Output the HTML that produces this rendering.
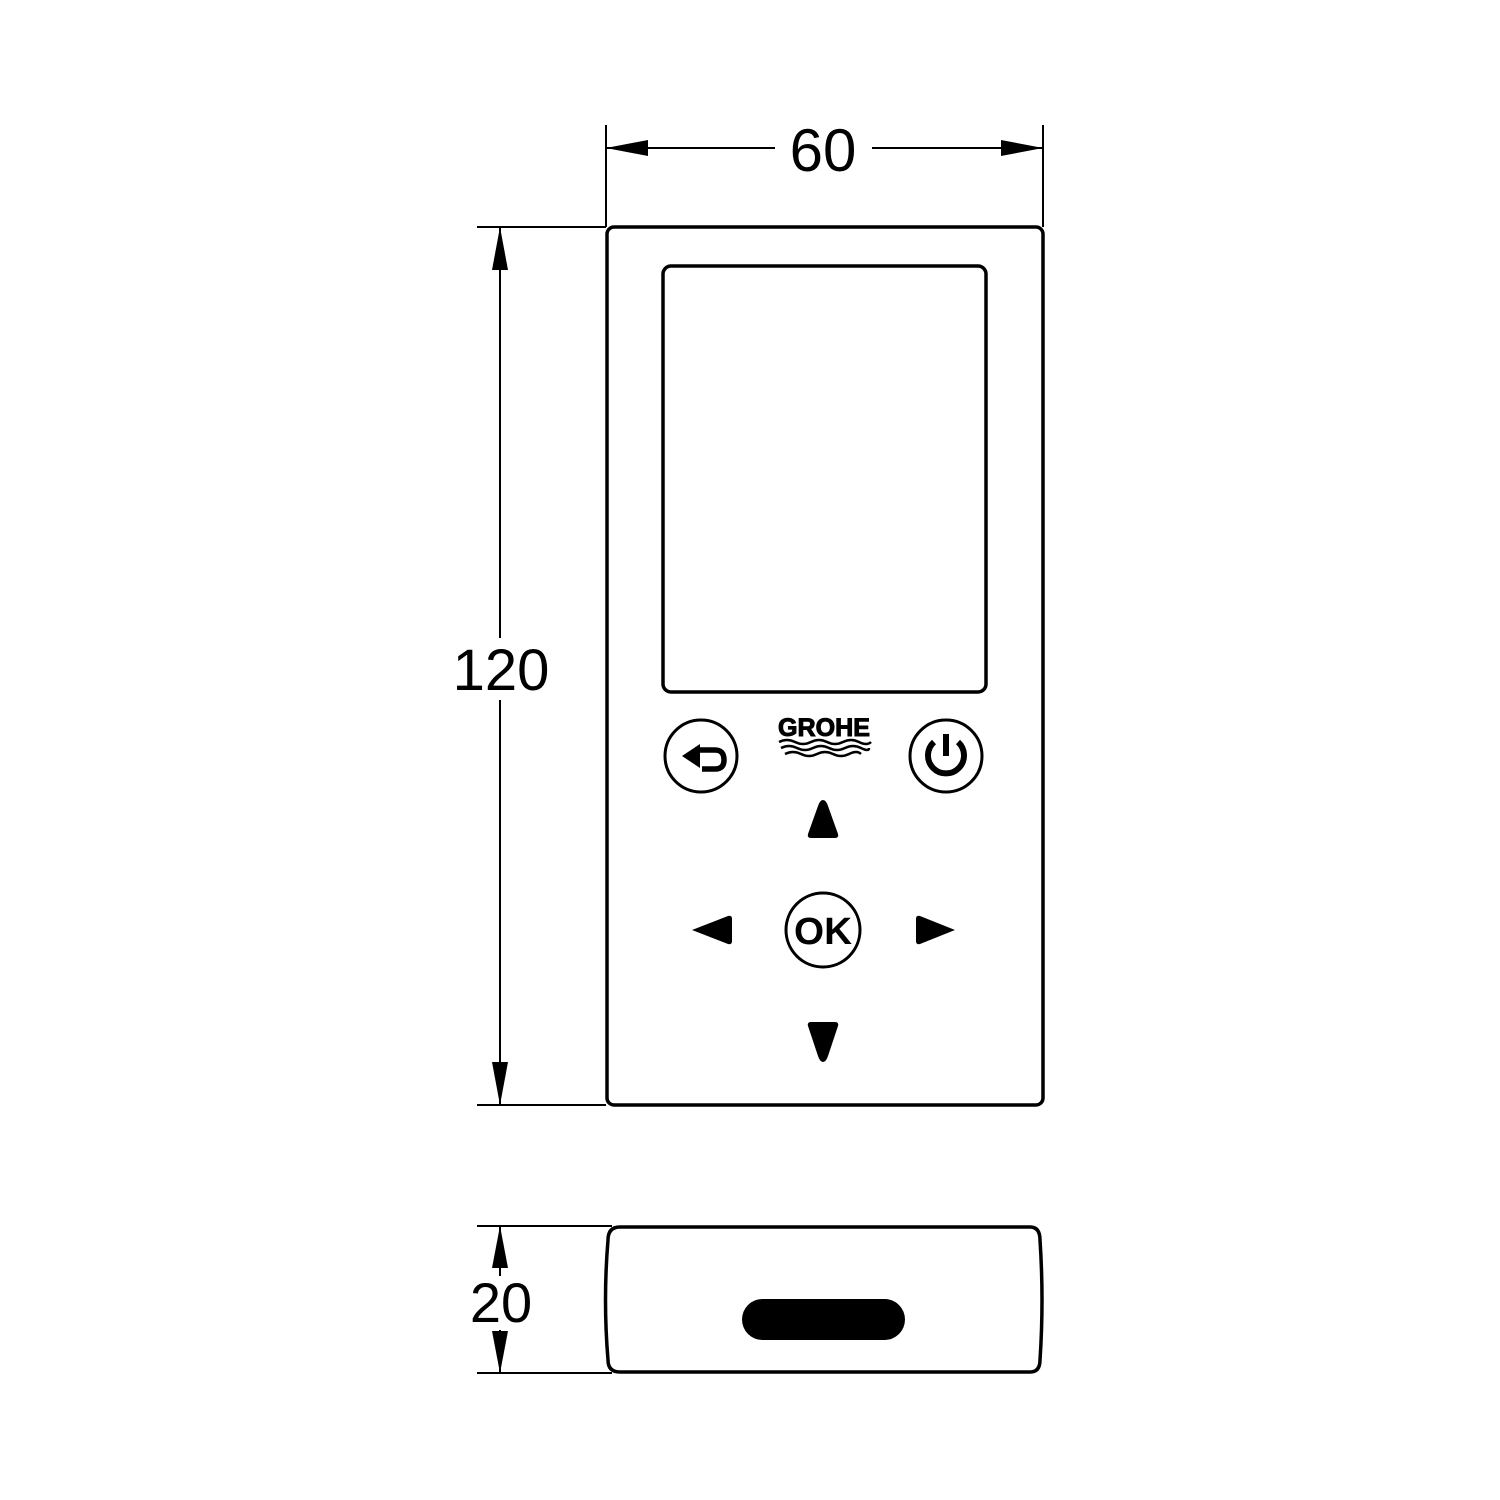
<!DOCTYPE html>
<html><head><meta charset="utf-8"><style>html,body{margin:0;padding:0;background:#fff}svg{display:block}</style></head>
<body>
<svg width="1500" height="1500" viewBox="0 0 1500 1500" xmlns="http://www.w3.org/2000/svg" font-family="Liberation Sans, sans-serif">
<g stroke="#000" fill="none">
<line x1="606" y1="125" x2="606" y2="227" stroke-width="2"/>
<line x1="1043" y1="125" x2="1043" y2="227" stroke-width="2"/>
<line x1="606" y1="148" x2="775" y2="148" stroke-width="2"/>
<line x1="872" y1="148" x2="1043" y2="148" stroke-width="2"/>
<line x1="477" y1="227" x2="606" y2="227" stroke-width="2"/>
<line x1="477" y1="1105" x2="606" y2="1105" stroke-width="2"/>
<line x1="500" y1="227" x2="500" y2="638" stroke-width="2"/>
<line x1="500" y1="700" x2="500" y2="1105" stroke-width="2"/>
<line x1="477" y1="1226" x2="612" y2="1226" stroke-width="2"/>
<line x1="477" y1="1373" x2="612" y2="1373" stroke-width="2"/>
<line x1="500" y1="1226" x2="500" y2="1276" stroke-width="2"/>
<line x1="500" y1="1330" x2="500" y2="1373" stroke-width="2"/>
<rect x="607" y="227" width="436" height="878" rx="7" stroke-width="3.5"/>
<rect x="663" y="266" width="323" height="426" rx="8" stroke-width="3.5"/>
<circle cx="701" cy="756" r="36" stroke-width="3"/>
<circle cx="946" cy="756" r="36" stroke-width="3"/>
<circle cx="823" cy="930" r="37" stroke-width="3"/>
<path d="M695 750 H715 Q724 750 724 760 Q724 769 715 769 H702" stroke-width="5.5"/>
<path d="M934 742 A18 18 0 1 0 958 742" stroke-width="6"/>
<line x1="946" y1="734" x2="946" y2="756" stroke-width="6"/>
<path d="M620 1227 H1030 Q1040 1227 1040 1240 Q1044 1300 1040 1360 Q1040 1372 1030 1372 H620 Q608 1372 608 1360 Q603 1300 608 1240 Q608 1227 620 1227 Z" stroke-width="3.5"/>
<path d="M779 742 q8 -4 16 0 t16 0 t16 0 t16 0 t16 0 t12 0" stroke-width="2.5"/>
<path d="M781 748 q8 -4 16 0 t16 0 t16 0 t16 0 t16 0 t8 0" stroke-width="2.5"/>
<path d="M785 754 q8 -4 16 0 t16 0 t16 0 t16 0 t12 0" stroke-width="2.5"/>
</g>
<g fill="#000">
<polygon points="606,148 648,140 648,156"/>
<polygon points="1043,148 1001,140 1001,156"/>
<polygon points="500,227 492,270 508,270"/>
<polygon points="500,1105 492,1062 508,1062"/>
<polygon points="500,1226 492,1268 508,1268"/>
<polygon points="500,1373 492,1331 508,1331"/>
<polygon points="682,756 700,744 700,768"/>
<path d="M823 800 Q826 800 828 806 L838 834 Q839 838 835 838 H811 Q807 838 808 834 L818 806 Q820 800 823 800Z"/>
<path d="M823 1062 Q826 1062 828 1056 L838 1026 Q839 1022 835 1022 H811 Q807 1022 808 1026 L818 1056 Q820 1062 823 1062Z"/>
<path d="M692 930 L728 916 Q732 915 732 919 V941 Q732 945 728 944Z"/>
<path d="M955 930 L920 916 Q916 915 916 919 V941 Q916 945 920 944Z"/>
<rect x="742" y="1299" width="163" height="41" rx="20.5"/>
<text x="823" y="171" font-size="60" text-anchor="middle">60</text>
<text x="501" y="690" font-size="58" text-anchor="middle">120</text>
<text x="501" y="1322" font-size="56" text-anchor="middle">20</text>
<text x="823" y="944" font-size="38" font-weight="bold" text-anchor="middle" textLength="58" lengthAdjust="spacingAndGlyphs">OK</text>
<text x="824" y="736" font-size="25" font-weight="bold" text-anchor="middle" textLength="92" lengthAdjust="spacingAndGlyphs" stroke="#000" stroke-width="1">GROHE</text>
</g>
</svg>
</body></html>
